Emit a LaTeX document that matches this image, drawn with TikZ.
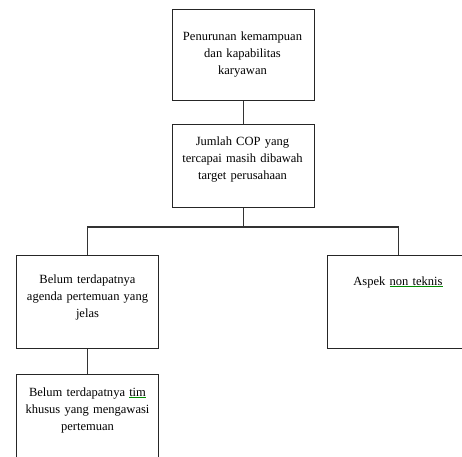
\documentclass[tikz,border=0pt]{standalone}
\usepackage{fontspec}
\setmainfont{Liberation Serif}
\newcommand\gul[1]{\setbox0\hbox{#1}\rlap{\textcolor{green!55!black}{\rule[-1.6pt]{\wd0}{0.5pt}}}\box0}
\begin{document}
\begin{tikzpicture}[x=0.75pt,y=-0.75pt,
  box/.style={draw=black!85,line width=0.9pt,minimum width=106.5pt,anchor=north west,inner sep=0pt},
  txt/.style={text width=110pt,align=center,anchor=base,inner sep=0pt,font=\fontsize{9.4}{13.1}\selectfont},
  conn/.style={draw=black!80,line width=0.8pt}]
\useasboundingbox (0,0) rectangle (462,457);
\begin{scope}
\clip (0,0) rectangle (462,457);
\node[box,minimum height=68.25pt] (b1) at (172,9) {};
\node[box,minimum height=62.25pt] (b2) at (172,124) {};
\node[box,minimum height=69.75pt] (b3) at (16,255) {};
\node[box,minimum height=69.75pt] (b4) at (16,374) {};
\node[box,minimum height=69.75pt] (b5) at (327,255) {};
\node[txt] (t1) at (242.5,40) {Penurunan kemampuan\\dan kapabilitas\\karyawan};
\node[txt] (t2) at (242.5,145) {Jumlah COP yang\\tercapai masih dibawah\\target perusahaan};
\node[txt] (t3) at (87.5,283) {Belum terdapatnya\\agenda pertemuan yang\\jelas};
\node[txt] (t4) at (87.5,396) {Belum terdapatnya \gul{tim}\\khusus yang mengawasi\\pertemuan};
\node[txt] (t5) at (398,285) {Aspek \gul{non teknis}};
\coordinate (j) at (b2.south |- 0,227);
\draw[conn] (b1.south) -- (b2.north);
\draw[conn] (b2.south) -- (j);
\draw[conn] (b3.north) |- (j) -| (b5.north);
\draw[conn] (b3.south) -- (b4.north);
\end{scope}
\end{tikzpicture}
\end{document}
